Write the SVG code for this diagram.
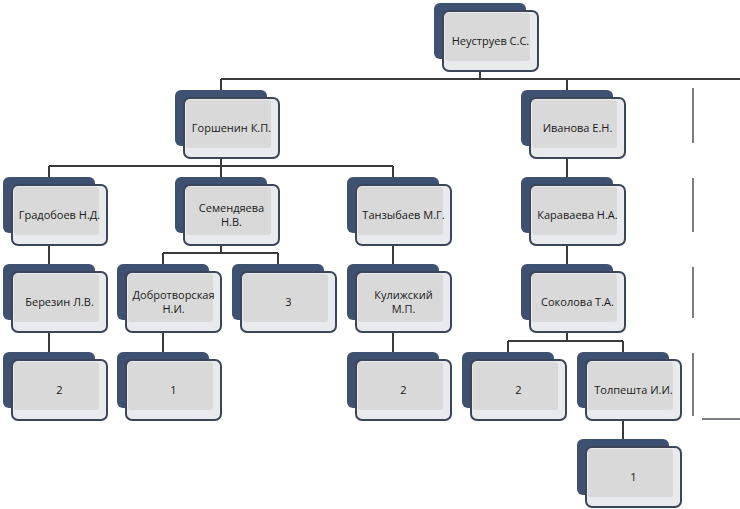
<svg xmlns="http://www.w3.org/2000/svg" width="740" height="509" viewBox="0 0 740 509">
<style>
.bk{fill:#3e5170;}
.fr{fill:#e9eaed;stroke:#3c4658;stroke-width:2;}
.in{fill:#d9d9d9;}
.t{font-family:"Open Sans","Liberation Sans",sans-serif;font-size:11px;fill:#1a1a1a;text-anchor:middle;}
.c{stroke:#3a3a3a;stroke-width:2;fill:none;}
.p{stroke:#50545e;stroke-width:1.5;fill:none;}
</style>
<defs>
<g id="box"><rect class="bk" width="92" height="56" rx="6"/><rect class="fr" x="9" y="8" width="95" height="60" rx="6"/><rect class="in" x="11" y="10" width="85" height="48" rx="3"/></g>
</defs>
<rect width="740" height="509" fill="#ffffff"/>
<g id="connectors">
<path class="c" d="M480,71V79M221,79H740M221,79V90M567,79V90"/>
<path class="c" d="M221,157V166M49,166H393M49,166V177M221,166V177M393,166V177"/>
<path class="c" d="M567,157V177"/>
<path class="c" d="M49,245V264M221,245V253M163,253H278M163,253V264M278,253V264M393,245V264M567,245V264"/>
<path class="c" d="M49,332V352M163,332V352M393,332V352M567,332V341M508,341H623M508,341V352M623,341V352"/>
<path class="c" d="M623,419V439"/>
</g>
<g id="n-partial">
<path class="p" d="M693,88V143M693,178V232M693,267V318M693,353V416M702,419H740"/>
</g>
<g id="n-root" transform="translate(434,3)"><use href="#box"/><text class="t" x="56.5" y="42">Неуструев С.С.</text></g>
<g id="n-gorshenin" transform="translate(175,90)"><use href="#box"/><text class="t" x="56.5" y="42">Горшенин К.П.</text></g>
<g id="n-ivanova" transform="translate(521,90)"><use href="#box"/><text class="t" x="56.5" y="42">Иванова Е.Н.</text></g>
<g id="n-gradoboev" transform="translate(3,177)"><use href="#box"/><text class="t" x="56.5" y="42">Градобоев Н.Д.</text></g>
<g id="n-semendyaeva" transform="translate(175,177)"><use href="#box"/><text class="t" x="56.5" y="35">Семендяева</text><text class="t" x="56.5" y="49">Н.В.</text></g>
<g id="n-tanzybaev" transform="translate(347,177)"><use href="#box"/><text class="t" x="56.5" y="42">Танзыбаев М.Г.</text></g>
<g id="n-karavaeva" transform="translate(521,177)"><use href="#box"/><text class="t" x="56.5" y="42">Караваева Н.А.</text></g>
<g id="n-berezin" transform="translate(3,264)"><use href="#box"/><text class="t" x="56.5" y="42">Березин Л.В.</text></g>
<g id="n-dobrotvorskaya" transform="translate(117,264)"><use href="#box"/><text class="t" x="56.5" y="35">Добротворская</text><text class="t" x="56.5" y="49">Н.И.</text></g>
<g id="n-three" transform="translate(232,264)"><use href="#box"/><text class="t" x="56.5" y="42">3</text></g>
<g id="n-kulizhsky" transform="translate(347,264)"><use href="#box"/><text class="t" x="56.5" y="35">Кулижский</text><text class="t" x="56.5" y="49">М.П.</text></g>
<g id="n-sokolova" transform="translate(521,264)"><use href="#box"/><text class="t" x="56.5" y="42">Соколова Т.А.</text></g>
<g id="n-two-a" transform="translate(3,352)"><use href="#box"/><text class="t" x="56.5" y="42">2</text></g>
<g id="n-one-a" transform="translate(117,352)"><use href="#box"/><text class="t" x="56.5" y="42">1</text></g>
<g id="n-two-b" transform="translate(347,352)"><use href="#box"/><text class="t" x="56.5" y="42">2</text></g>
<g id="n-two-c" transform="translate(462,352)"><use href="#box"/><text class="t" x="56.5" y="42">2</text></g>
<g id="n-tolpeshta" transform="translate(577,352)"><use href="#box"/><text class="t" x="56.5" y="42">Толпешта И.И.</text></g>
<g id="n-one-b" transform="translate(577,439)"><use href="#box"/><text class="t" x="56.5" y="42">1</text></g>
</svg>
